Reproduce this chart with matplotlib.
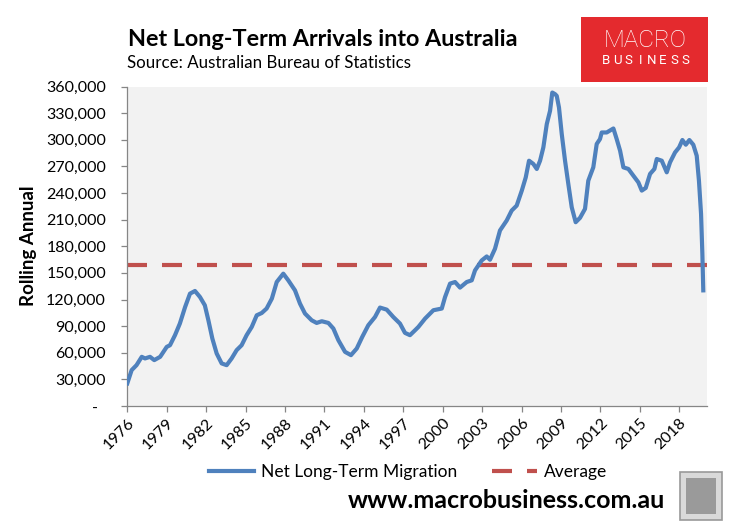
import numpy as np
import matplotlib.pyplot as plt
from matplotlib.lines import Line2D
from matplotlib.patches import Rectangle
from matplotlib.ticker import FuncFormatter

plt.rcParams['font.family'] = ['Lato', 'DejaVu Sans']

# Net long-term arrivals, rolling annual (thousands)
years = [1976.00, 1976.33, 1976.70, 1977.10, 1977.35, 1977.73, 1978.05, 1978.50,
         1979.00, 1979.25, 1979.63, 1980.00, 1980.40, 1980.77, 1981.15, 1981.53,
         1981.90, 1982.17, 1982.47, 1982.80, 1983.18, 1983.56, 1983.94, 1984.32,
         1984.70, 1985.08, 1985.47, 1985.85, 1986.23, 1986.60, 1987.00, 1987.37,
         1987.87, 1988.25, 1988.76, 1989.14, 1989.52, 1990.03, 1990.41, 1990.80,
         1991.30, 1991.68, 1992.06, 1992.57, 1993.02, 1993.46, 1993.88, 1994.34,
         1994.85, 1995.23, 1995.74, 1996.24, 1996.75, 1997.13, 1997.51, 1997.90,
         1998.15, 1998.66, 1999.29, 1999.93, 2000.18, 2000.56, 2000.94, 2001.32,
         2001.83, 2002.21, 2002.46, 2002.97, 2003.35, 2003.60, 2003.98, 2004.36,
         2004.87, 2005.25, 2005.63, 2006.02, 2006.32, 2006.57, 2006.90, 2007.16,
         2007.41, 2007.66, 2007.92, 2008.17, 2008.34, 2008.55, 2008.68, 2008.85,
         2009.06, 2009.31, 2009.56, 2009.82, 2010.12, 2010.45, 2010.83, 2011.08,
         2011.46, 2011.72, 2011.97, 2012.10, 2012.48, 2012.99, 2013.24, 2013.50,
         2013.75, 2014.13, 2014.51, 2014.89, 2015.15, 2015.45, 2015.78, 2016.11,
         2016.29, 2016.67, 2017.05, 2017.30, 2017.68, 2017.99, 2018.24, 2018.50,
         2018.77, 2019.07, 2019.33, 2019.50, 2019.66, 2019.76, 2019.83]
arrivals_k = [25.5, 40.4, 46.0, 55.4, 53.6, 55.4, 51.7, 55.4,
              66.6, 68.5, 79.8, 92.9, 111.6, 126.6, 129.6, 122.8,
              113.5, 96.6, 76.1, 59.2, 48.0, 46.0, 53.6, 62.9,
              68.5, 79.8, 89.1, 102.2, 104.8, 109.8, 121.0, 139.7,
              149.1, 141.6, 130.3, 115.4, 104.2, 96.6, 93.6, 95.5,
              93.6, 87.3, 74.2, 61.0, 57.3, 64.8, 77.9, 91.0,
              100.3, 110.9, 108.6, 100.3, 92.9, 82.4, 79.8, 85.4,
              89.1, 98.5, 107.9, 109.8, 122.8, 137.9, 139.7, 133.4,
              139.7, 141.6, 152.8, 164.0, 168.5, 164.8, 177.2, 197.8,
              209.0, 220.2, 225.8, 242.7, 257.6, 276.4, 272.7, 267.1,
              276.4, 291.4, 317.6, 332.6, 353.2, 351.4, 349.4, 336.3,
              306.4, 276.4, 250.2, 223.9, 207.1, 212.0, 222.1, 253.9,
              268.9, 295.2, 300.8, 308.2, 308.2, 312.7, 300.8, 287.6,
              268.9, 267.1, 259.5, 252.0, 242.7, 245.7, 261.5, 267.1,
              278.3, 276.4, 263.3, 274.5, 285.7, 291.4, 299.7, 294.4,
              299.7, 294.4, 282.0, 253.9, 216.5, 171.6, 130.3]
average = 159200

year_ticks = list(range(1976, 2019, 3))
value_ticks = list(range(0, 360001, 30000))

arrivals = np.array(arrivals_k) * 1000

W, H = 729, 523
fig = plt.figure(figsize=(W / 100, H / 100), dpi=100)
ax = fig.add_axes([127.3 / W, 1 - 406 / H, (706.7 - 127.3) / W, (406 - 86.5) / H])
ax.set_facecolor('#F2F2F2')

blue = '#4F81BD'
red = '#C0504D'
ax.plot(years, arrivals, color=blue, lw=3.0, solid_joinstyle='round', zorder=3)
ax.axhline(average, color=red, lw=3.0, dashes=(4.8, 3.6), zorder=2)

ax.set_xlim(1976, 2020.09)
ax.set_ylim(0, 360000)
ax.set_xticks(year_ticks)
ax.set_xticklabels([str(y) for y in year_ticks], rotation=45, ha='right', va='top',
                   rotation_mode='anchor')
ax.set_yticks(value_ticks)
ax.yaxis.set_major_formatter(FuncFormatter(lambda v, p: '-  ' if v == 0 else f'{v:,.0f}'))

for s in ['top', 'right']:
    ax.spines[s].set_visible(False)
for s in ['left', 'bottom']:
    ax.spines[s].set_color('#868686')
    ax.spines[s].set_linewidth(0.9)
ax.tick_params(axis='both', colors='#868686', length=4.3, width=0.9, labelcolor='black',
               labelsize=11.5)
ax.tick_params(axis='y', pad=11)
ax.tick_params(axis='x', pad=3)
ax.set_ylabel('Rolling Annual', fontsize=13.5, fontweight='bold')
ax.yaxis.set_label_coords(-(127.3 - 37) / (706.7 - 127.3), 0.5)

# titles
fig.text(128 / W, 1 - 40 / H, 'Net Long-Term Arrivals into Australia', fontsize=16.8,
         fontweight='bold', va='center', ha='left')
fig.text(127 / W, 1 - 63 / H, 'Source: Australian Bureau of Statistics', fontsize=12.2,
         va='center', ha='left')

# logo
fig.patches.append(Rectangle((581 / W, 1 - 81.7 / H), 126.7 / W, 65 / H, facecolor='#E42A2E',
                             edgecolor='none', transform=fig.transFigure))
fig.text(645.5 / W, 1 - 40.5 / H, 'MACRO', color='white', fontsize=17.5, fontfamily='Roboto',
         fontweight='light', ha='center', va='center')
for i, ch in enumerate('BUSINESS'):
    fig.text((606 + i * 11.4) / W, 1 - 61 / H, ch, color='white', fontsize=9.5,
             fontfamily='Roboto', ha='center', va='center')

# legend
handles = [Line2D([0], [0], color=blue, lw=3.0),
           Line2D([0], [0], color=red, lw=3.0, dashes=(4.8, 3.6))]
fig.legend(handles, ['Net Long-Term Migration', 'Average'], ncol=2, frameon=False,
           loc='center', bbox_to_anchor=(408 / W, 1 - 472 / H), fontsize=12.5,
           handlelength=2.6, columnspacing=2.0, handletextpad=0.4)

fig.text(665 / W, 1 - 500 / H, 'www.macrobusiness.com.au', fontsize=18, fontweight='bold',
         ha='right', va='center')
fig.patches.append(Rectangle((680 / W, 1 - 520 / H), 42 / W, 48 / H, facecolor='#D9D9D9',
                             edgecolor='#999999', lw=1.2, transform=fig.transFigure))
fig.patches.append(Rectangle((686 / W, 1 - 514 / H), 30 / W, 36 / H, facecolor='#9A9A9A',
                             edgecolor='none', transform=fig.transFigure))

fig.savefig('out.png', dpi=100)
